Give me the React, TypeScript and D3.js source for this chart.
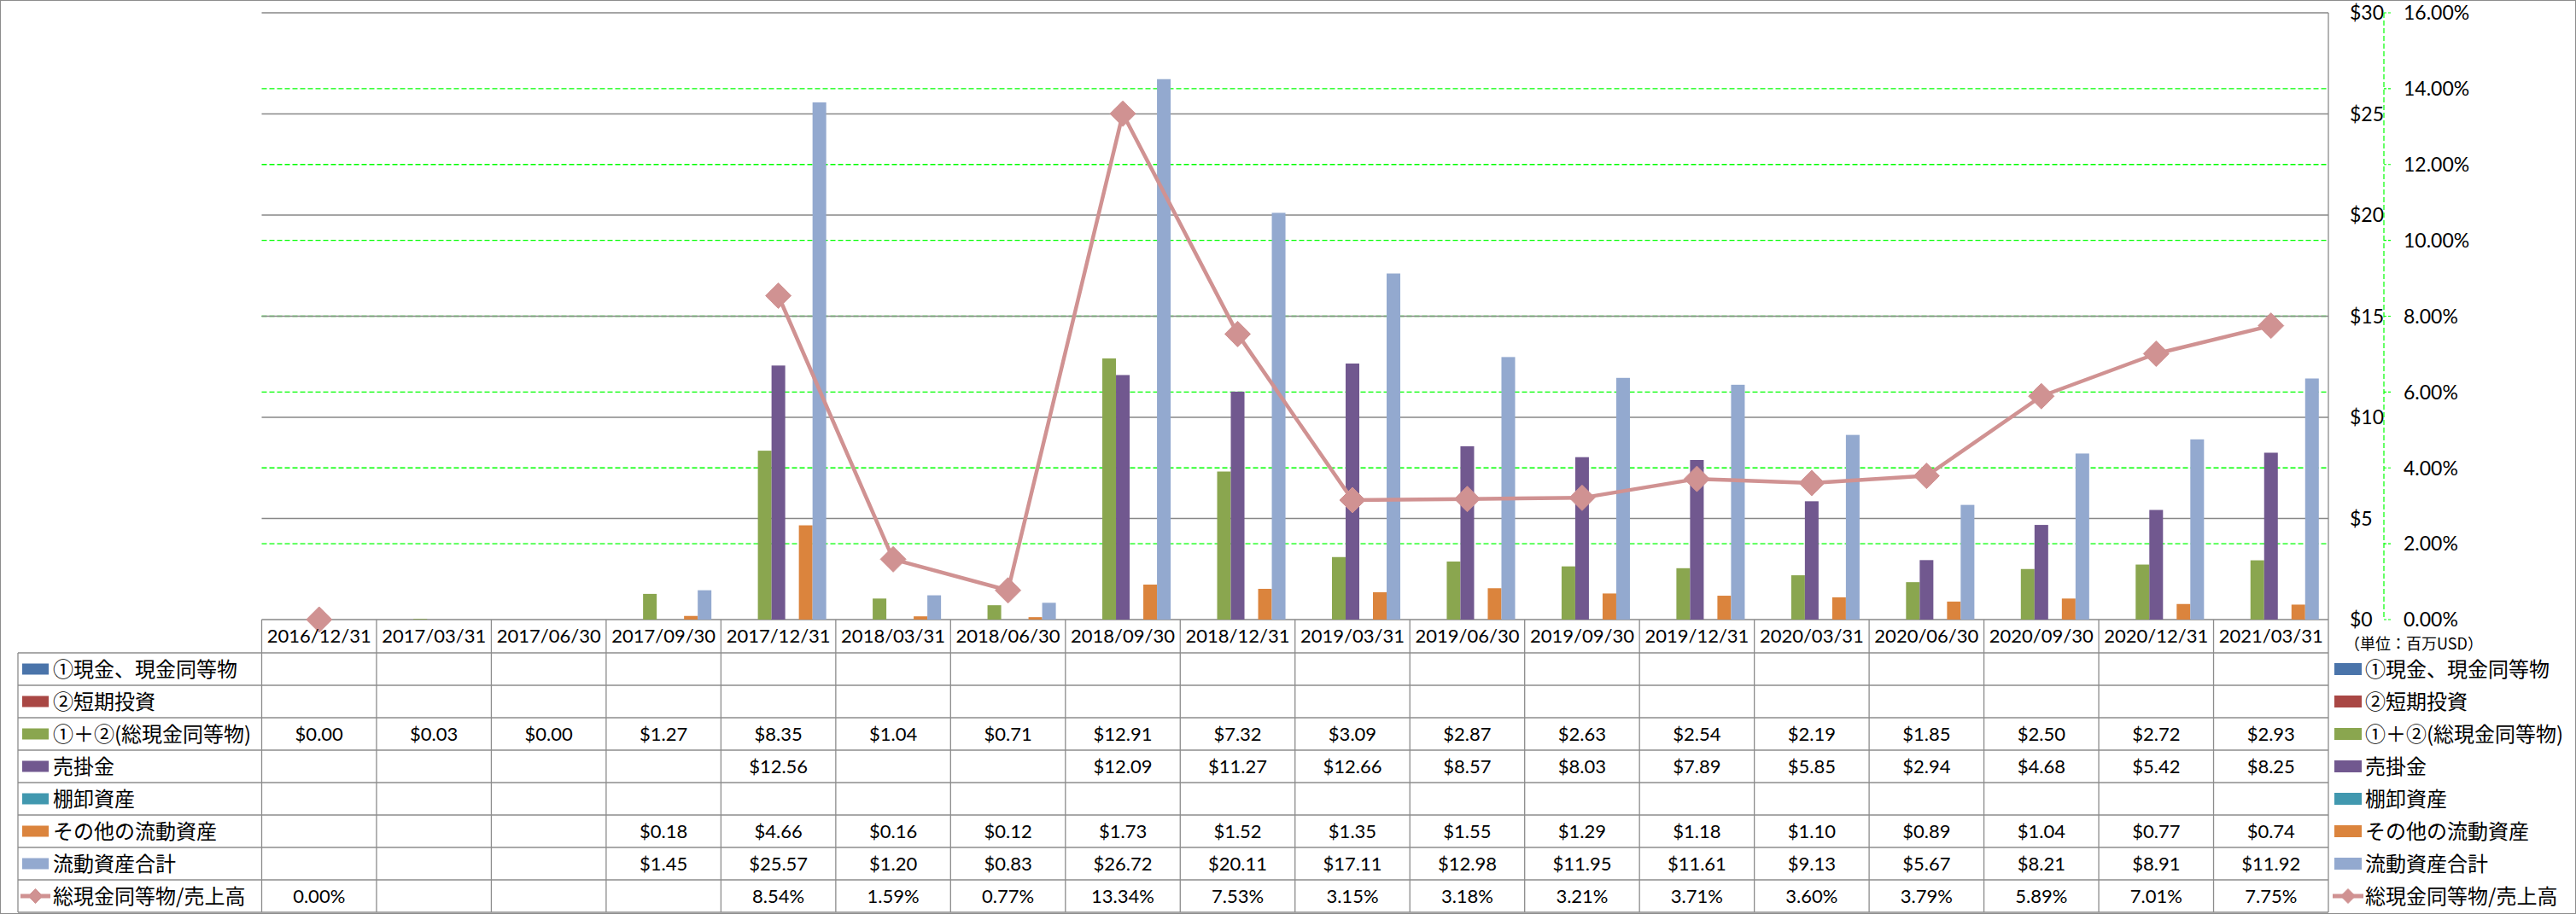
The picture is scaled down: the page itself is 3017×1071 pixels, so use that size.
import React from "react";
import * as d3 from "d3";

const categories = [
  "2016/12/31", "2017/03/31", "2017/06/30", "2017/09/30", "2017/12/31", "2018/03/31",
  "2018/06/30", "2018/09/30", "2018/12/31", "2019/03/31", "2019/06/30", "2019/09/30",
  "2019/12/31", "2020/03/31", "2020/06/30", "2020/09/30", "2020/12/31", "2021/03/31",
];
const N = null;
const cashEq: (number | null)[] = [N, N, N, N, N, N, N, N, N, N, N, N, N, N, N, N, N, N];
const shortInvest: (number | null)[] = [N, N, N, N, N, N, N, N, N, N, N, N, N, N, N, N, N, N];
const totalCash: (number | null)[] = [0.0, 0.03, 0.0, 1.27, 8.35, 1.04, 0.71, 12.91, 7.32, 3.09, 2.87, 2.63, 2.54, 2.19, 1.85, 2.5, 2.72, 2.93];
const receivables: (number | null)[] = [N, N, N, N, 12.56, N, N, 12.09, 11.27, 12.66, 8.57, 8.03, 7.89, 5.85, 2.94, 4.68, 5.42, 8.25];
const inventory: (number | null)[] = [N, N, N, N, N, N, N, N, N, N, N, N, N, N, N, N, N, N];
const otherCurrent: (number | null)[] = [N, N, N, 0.18, 4.66, 0.16, 0.12, 1.73, 1.52, 1.35, 1.55, 1.29, 1.18, 1.1, 0.89, 1.04, 0.77, 0.74];
const totalCurrent: (number | null)[] = [N, N, N, 1.45, 25.57, 1.2, 0.83, 26.72, 20.11, 17.11, 12.98, 11.95, 11.61, 9.13, 5.67, 8.21, 8.91, 11.92];
const cashToSales: (number | null)[] = [0.0, N, N, N, 8.54, 1.59, 0.77, 13.34, 7.53, 3.15, 3.18, 3.21, 3.71, 3.6, 3.79, 5.89, 7.01, 7.75];

const leftTicks = [0, 5, 10, 15, 20, 25, 30];
const rightTicks = [0, 2, 4, 6, 8, 10, 12, 14, 16];
const unitLabel = "（単位：百万USD）";

const barSeries = [
  { name: "①現金、現金同等物", values: cashEq, color: "#4A74AA" },
  { name: "②短期投資", values: shortInvest, color: "#A94744" },
  { name: "①＋②(総現金同等物)", values: totalCash, color: "#8AA64F" },
  { name: "売掛金", values: receivables, color: "#71588F" },
  { name: "棚卸資産", values: inventory, color: "#4198AF" },
  { name: "その他の流動資産", values: otherCurrent, color: "#DB843D" },
  { name: "流動資産合計", values: totalCurrent, color: "#93A9CF" },
];
const lineSeries = { name: "総現金同等物/売上高", values: cashToSales, color: "#D09292" };

const W = 3017;
const H = 1071;
const plotL = 306.5;
const plotR = 2727;
const plotT = 15;
const plotB = 726;
const rowH = 38;
const headerB = 765;
const tableL = 21;
const FONT = "Lato, 'Noto Sans CJK JP', sans-serif";
const JFONT = "'Noto Sans CJK JP', sans-serif";

function Diamond({ cx, cy, r, color }: { cx: number; cy: number; r: number; color: string }) {
  return (
    <path
      d={`M${cx},${cy - r}L${cx + r},${cy}L${cx},${cy + r}L${cx - r},${cy}Z`}
      fill={color}
      stroke={color}
      strokeWidth={1}
    />
  );
}

export default function App() {
  const x = d3.scaleBand<string>().domain(categories).range([plotL, plotR]).padding(0);
  const bw = x.bandwidth();
  const barW = bw / 8.4;
  const slot = d3
    .scaleBand<number>()
    .domain(d3.range(barSeries.length))
    .range([(bw - barW * 7) / 2, (bw + barW * 7) / 2])
    .padding(0);
  const y = d3.scaleLinear().domain([0, 30]).range([plotB, plotT]);
  const y2 = d3.scaleLinear().domain([0, 16]).range([plotB, plotT]);

  const cx = (i: number) => (x(categories[i]) as number) + bw / 2;
  const lineGen = d3
    .line<number | null>()
    .defined((d) => d != null)
    .x((_, i) => cx(i))
    .y((d) => y2(d as number));

  const rows = [
    ...barSeries.map((s) => ({ ...s, kind: "bar", fmt: (v: number) => `$${v.toFixed(2)}` })),
    { ...lineSeries, kind: "line", fmt: (v: number) => `${v.toFixed(2)}%` },
  ];
  const tableB = headerB + rows.length * rowH;
  const gridColor = "#878787";
  const borderColor = "#8c8c8c";

  return (
    <svg
      width={W}
      height={H}
      style={{ position: "absolute", left: 0, top: 0, background: "#fff" }}
      fontFamily={FONT}
    >
      <rect x={0.5} y={0.5} width={W - 1} height={H - 1} fill="#fff" stroke="#8c8c8c" strokeWidth={1} />

      {/* right-axis dashed grid */}
      {rightTicks.filter((t) => t > 0 && t < 16).map((t) => (
        <line key={"g2" + t} x1={plotL} x2={plotR} y1={y2(t)} y2={y2(t)} stroke="#00FF00" strokeWidth={1.3} strokeDasharray="6,3" />
      ))}
      {/* left-axis grid */}
      {leftTicks.map((t) => (
        <line key={"g" + t} x1={plotL} x2={plotR} y1={y(t)} y2={y(t)} stroke={gridColor} strokeWidth={1.3} />
      ))}

      {/* bars */}
      {barSeries.map((s, si) =>
        s.values.map((v, i) =>
          v == null || v <= 0 ? null : (
            <rect
              key={`b${si}-${i}`}
              x={(x(categories[i]) as number) + (slot(si) as number)}
              y={y(v)}
              width={slot.bandwidth()}
              height={plotB - y(v)}
              fill={s.color}
            />
          )
        )
      )}

      {/* line */}
      <path d={lineGen(lineSeries.values) || ""} fill="none" stroke={lineSeries.color} strokeWidth={4.5} strokeLinejoin="round" />
      {lineSeries.values.map((v, i) =>
        v == null ? null : <Diamond key={"m" + i} cx={cx(i)} cy={y2(v)} r={15} color={lineSeries.color} />
      )}

      {/* plot right border */}
      <line x1={plotR} x2={plotR} y1={plotT} y2={tableB} stroke={borderColor} strokeWidth={1.3} />

      {/* axes labels */}
      {leftTicks.map((t) => (
        <text key={"l" + t} x={2752} y={y(t)} dy="0.36em" fontSize={23} fill="#000">
          {`$${t}`}
        </text>
      ))}
      <line x1={2792} x2={2792} y1={plotT} y2={plotB} stroke="#00FF00" strokeWidth={1.2} strokeDasharray="6,3" />
      {rightTicks.map((t) => (
        <line key={"rt" + t} x1={2792} x2={2800} y1={y2(t)} y2={y2(t)} stroke="#00FF00" strokeWidth={1.2} strokeDasharray="3,2" />
      ))}
      {rightTicks.map((t) => (
        <text key={"r" + t} x={2815} y={y2(t)} dy="0.36em" fontSize={23} fill="#000">
          {`${t.toFixed(2)}%`}
        </text>
      ))}
      <text x={2746} y={755} dy="0.36em" fontSize={18} fontFamily={JFONT} fill="#000">
        {unitLabel}
      </text>

      {/* table */}
      {categories.map((c, i) => (
        <g key={"h" + c}>
          <line x1={x(c) as number} x2={x(c) as number} y1={plotB} y2={tableB} stroke={borderColor} strokeWidth={1.3} />
          <text x={cx(i)} y={(plotB + headerB) / 2} dy="0.36em" textAnchor="middle" fontSize={22} fill="#000">
            {c}
          </text>
        </g>
      ))}
      {d3.range(rows.length + 1).map((r) => (
        <line key={"hr" + r} x1={tableL} x2={plotR} y1={headerB + r * rowH} y2={headerB + r * rowH} stroke={borderColor} strokeWidth={1.3} />
      ))}
      <line x1={tableL} x2={tableL} y1={headerB} y2={tableB} stroke={borderColor} strokeWidth={1.3} />
      {rows.map((s, r) => {
        const cy = headerB + r * rowH + rowH / 2;
        return (
          <g key={"row" + r}>
            {s.kind === "bar" ? (
              <rect x={26} y={cy - 6.5} width={31} height={13} fill={s.color} />
            ) : (
              <g>
                <line x1={24} x2={59} y1={cy} y2={cy} stroke={s.color} strokeWidth={5} />
                <Diamond cx={41.5} cy={cy} r={8.5} color={s.color} />
              </g>
            )}
            <text x={62} y={cy} dy="0.36em" fontSize={24} fontFamily={JFONT} fill="#000">
              {s.name}
            </text>
            {s.values.map((v, i) =>
              v == null ? null : (
                <text key={"v" + i} x={cx(i)} y={cy} dy="0.36em" textAnchor="middle" fontSize={22} fill="#000">
                  {s.fmt(v)}
                </text>
              )
            )}
            {/* right legend */}
            {s.kind === "bar" ? (
              <rect x={2734} y={cy - 7} width={32} height={14} fill={s.color} />
            ) : (
              <g>
                <line x1={2732} x2={2768} y1={cy} y2={cy} stroke={s.color} strokeWidth={5} />
                <Diamond cx={2750} cy={cy} r={8.5} color={s.color} />
              </g>
            )}
            <text x={2770} y={cy} dy="0.36em" fontSize={24} fontFamily={JFONT} fill="#000">
              {s.name}
            </text>
          </g>
        );
      })}
    </svg>
  );
}
